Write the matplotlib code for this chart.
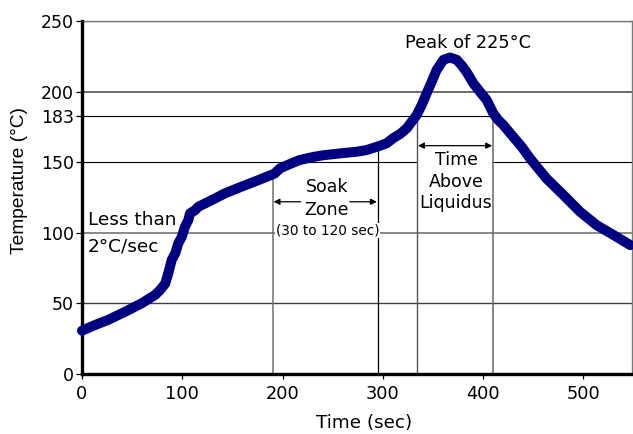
import matplotlib
matplotlib.use("Agg")
import matplotlib.pyplot as plt

# ---- data ----
time_s = [0, 13, 26, 43, 59.5, 73, 77.8, 83, 86, 89.4, 93, 96, 99.4, 102.7, 106,
          107.7, 112.7, 116, 126, 136, 142.6, 159, 176, 192, 197.4, 207.4, 217,
          230.6, 240.6, 257.2, 274, 283.8, 294, 303.8, 310, 317, 323.7, 328.7,
          333.7, 338.7, 343.7, 348.6, 353.6, 360.4, 367, 373.6, 378.5, 383.5,
          390.2, 396.8, 403.5, 410, 415, 420, 430, 438.4, 446.7, 463, 480,
          496.5, 513, 530, 546.6]
temp_c = [30.6, 34.6, 38.2, 44, 50, 56, 59.4, 64, 71.3, 80.7, 85.5, 92.5, 97,
          104.3, 109, 113.8, 116, 118.5, 122, 125.6, 128, 132.7, 137.4, 142,
          145.7, 148.8, 151.6, 153.8, 155, 156.3, 157.5, 158.7, 161, 163.5, 167,
          170, 174, 178.8, 183.5, 190.6, 199, 207, 215.5, 222.7, 224.3, 222.7,
          218.8, 214, 206, 200, 194.2, 184.8, 180, 176.5, 168, 161, 152.8,
          138.6, 126.8, 115, 105.5, 98.4, 91.3]

y_ticks = [0, 50, 100, 150, 183, 200, 250]
x_ticks = [0, 100, 200, 300, 400, 500]
liquidus = 183
peak = 225
soak_start, soak_end = 190, 295
tal_start, tal_end = 334, 410
soak_line_tops = [142, 158.5]

FONT = "DejaVu Sans"

fig = plt.figure(figsize=(6.33, 4.34), dpi=100)
ax = fig.add_axes([82 / 633, (434 - 373.8) / 434, 550 / 633, 352.5 / 434])
ax.set_xlim(0, 548.4)
ax.set_ylim(0, 250)

# grid lines (drawn manually, some are partial)
ax.axhline(250, color="#7a7a7a", lw=1.0, zorder=1)
ax.axhline(200, color="#6a6a6a", lw=1.4, zorder=1)
ax.hlines(liquidus, 0, tal_end, color="black", lw=0.8, zorder=1)
ax.hlines(150, 0, tal_start, color="black", lw=0.8, zorder=1)
ax.hlines(150, tal_end, 548.4, color="black", lw=0.8, zorder=1)
ax.axhline(100, color="#6a6a6a", lw=1.1, zorder=1)
ax.axhline(50, color="#404040", lw=1.0, zorder=1)

# vertical markers
ax.vlines(soak_start, 0, soak_line_tops[0], color="#707070", lw=1.1, zorder=1)
ax.vlines(soak_end, 0, soak_line_tops[1], color="black", lw=0.9, zorder=1)
ax.vlines(tal_start, 0, liquidus, color="#555555", lw=1.0, zorder=1)
ax.vlines(tal_end, 0, liquidus, color="#666666", lw=1.1, zorder=1)

# profile curve
ax.plot(time_s, temp_c, color="#000080", lw=7.2, solid_capstyle="round",
        solid_joinstyle="round", zorder=5, clip_on=False)

# arrows
ap = dict(arrowstyle="-|>", color="black", lw=0.9, mutation_scale=9,
          shrinkA=0, shrinkB=0)
ax.annotate("", xy=(soak_start + 1, 122), xytext=(218, 122), arrowprops=ap)
ax.annotate("", xy=(soak_end - 1, 122), xytext=(267, 122), arrowprops=ap)
ap2 = dict(arrowstyle="<|-|>", color="black", lw=0.9, mutation_scale=9,
           shrinkA=0, shrinkB=0)
ax.annotate("", xy=(tal_start + 1, 161.8), xytext=(tal_end - 1, 161.8),
            arrowprops=ap2)

# text annotations
ax.text(244, 132.3, "Soak", ha="center", va="center", fontsize=12.5, family=FONT)
ax.text(244, 116.2, "Zone", ha="center", va="center", fontsize=12.5, family=FONT)
ax.text(245, 101.5, "(30 to 120 sec)", ha="center", va="center", fontsize=9.8,
        family=FONT, bbox=dict(facecolor="white", edgecolor="none", pad=0.3),
        zorder=3)
ax.text(373, 151.6, "Time", ha="center", va="center", fontsize=12.5, family=FONT)
ax.text(373, 136, "Above", ha="center", va="center", fontsize=12.5, family=FONT)
ax.text(373, 121.3, "Liquidus", ha="center", va="center", fontsize=12.5, family=FONT)
ax.text(385, 234.8, f"Peak of {peak}\u00b0C", ha="center", va="center",
        fontsize=12.8, family=FONT)
ax.text(5.7, 109.2, "Less than", ha="left", va="center", fontsize=13.3, family=FONT)
ax.text(5.7, 90, "2\u00b0C/sec", ha="left", va="center", fontsize=13.3, family=FONT)

# axes styling
for s in ["top", "right"]:
    ax.spines[s].set_color("#7a7a7a")
    ax.spines[s].set_linewidth(1.0)
for s in ["left", "bottom"]:
    ax.spines[s].set_color("black")
    ax.spines[s].set_linewidth(2.4)
    ax.spines[s].set_zorder(4)

ax.set_xticks(x_ticks)
ax.set_yticks(y_ticks)
ax.tick_params(axis="x", length=3.6, width=0.9, pad=4.5, labelsize=12.8)
ax.tick_params(axis="y", length=4.3, width=0.9, pad=1.5, labelsize=12.5)
for lab in ax.get_xticklabels() + ax.get_yticklabels():
    lab.set_family(FONT)

fig.text(364 / 633, 1 - 422.7 / 434, "Time (sec)", ha="center", va="center",
         fontsize=13.2, family=FONT)
fig.text(19.5 / 633, 1 - 180.5 / 434, "Temperature (\u00b0C)", ha="center",
         va="center", rotation=90, fontsize=13.8, family="Liberation Sans")

fig.savefig("out.png", dpi=100)
